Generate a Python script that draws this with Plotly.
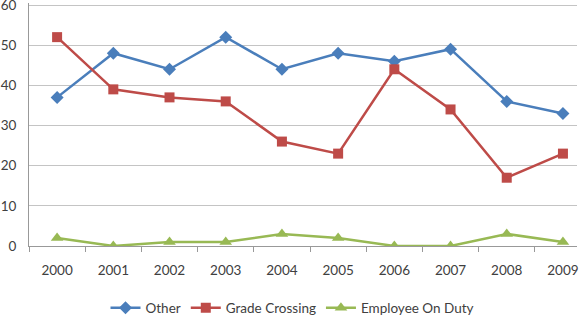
import plotly.graph_objects as go

years = ["2000", "2001", "2002", "2003", "2004", "2005", "2006", "2007", "2008", "2009"]
other = [37, 48, 44, 52, 44, 48, 46, 49, 36, 33]
grade_crossing = [52, 39, 37, 36, 26, 23, 44, 34, 17, 23]
employee = [2, 0, 1, 1, 3, 2, 0, 0, 3, 1]

font_family = "Lato, Open Sans, sans-serif"

fig = go.Figure()
fig.add_trace(go.Scatter(x=years, y=other, name="Other", mode="lines+markers",
                         line=dict(color="#4A7EBB", width=2.5),
                         marker=dict(symbol="diamond", size=10, color="#4A7EBB")))
fig.add_trace(go.Scatter(x=years, y=grade_crossing, name="Grade Crossing", mode="lines+markers",
                         line=dict(color="#BE4B48", width=2.5),
                         marker=dict(symbol="square", size=10, color="#BE4B48")))
fig.add_trace(go.Scatter(x=years, y=employee, name="Employee On Duty", mode="lines+markers",
                         line=dict(color="#98B954", width=2.5),
                         marker=dict(symbol="triangle-up", size=11, color="#98B954")))

fig.update_layout(
    width=585, height=326,
    margin=dict(l=29, r=8, t=3, b=80, autoexpand=False),
    paper_bgcolor="white", plot_bgcolor="white",
    font=dict(family=font_family, size=13.5, color="#404040"),
    showlegend=True,
    legend=dict(orientation="h", x=0.5, xanchor="center", xref="container",
                y=0.055, yanchor="middle", yref="container",
                font=dict(size=13.5, color="#404040"), itemwidth=30, tracegroupgap=0),
    xaxis=dict(type="category", range=[-0.5, 9.25], showgrid=False,
               showline=True, linecolor="#999999", linewidth=1,
               ticks="outside", tickson="boundaries", ticklen=5, tickcolor="#999999",
               ticklabelstandoff=12, tickfont=dict(size=13.5)),
    yaxis=dict(range=[0, 60.5], tickvals=[0, 10, 20, 30, 40, 50, 60], showgrid=True,
               gridcolor="#C4C4C4", gridwidth=1, ticklabeloverflow="allow",
               showline=True, linecolor="#999999", linewidth=1, zeroline=False,
               ticks="", ticklabelstandoff=9, tickfont=dict(size=13.5)),
)

fig.write_html("out.html")
